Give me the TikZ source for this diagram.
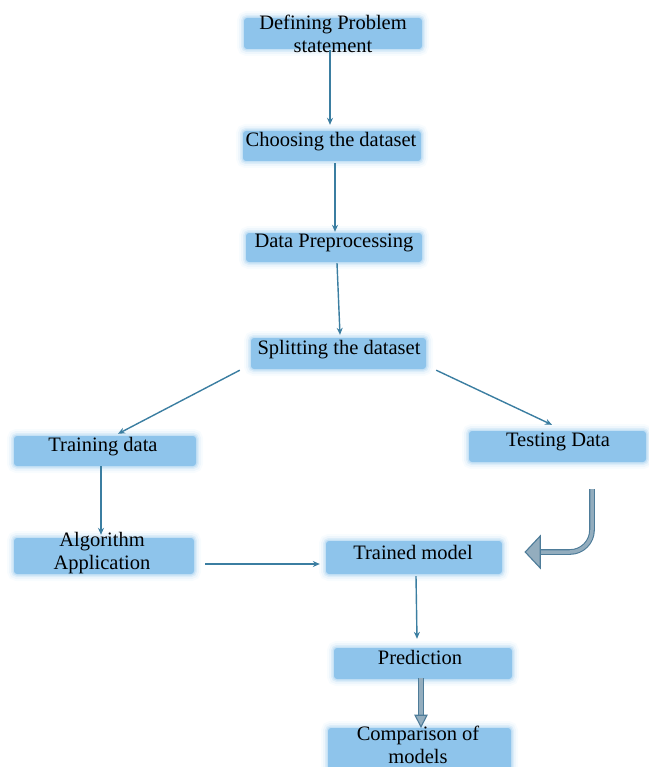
\documentclass[tikz,border=0pt]{standalone}
\usepackage{fontspec}
\setmainfont{Liberation Serif}
\usetikzlibrary{arrows.meta,calc}
\definecolor{boxblue}{HTML}{8EC4EB}
\definecolor{arrcol}{HTML}{3B7EA1}
\definecolor{hollowline}{HTML}{4E7C99}
\definecolor{hollowfill}{HTML}{93ADBE}
\begin{document}
\begin{tikzpicture}[x=1pt,y=-1pt,
  box/.style={rectangle,inner sep=0pt,draw=none,fill=boxblue,rounded corners=3pt,
    preaction={draw=boxblue,line width=14pt,opacity=0.06},
    preaction={draw=boxblue,line width=10pt,opacity=0.10},
    preaction={draw=boxblue,line width=6pt,opacity=0.18},
    preaction={draw=boxblue,line width=3pt,opacity=0.30}},
  lbl/.style={inner sep=0pt,align=center,font=\fontsize{20.5}{23.5}\selectfont,text=black},
  arr/.style={draw=arrcol,line width=1.4pt,-{Stealth[length=7pt,width=6pt]}},
  hollow/.style={draw=hollowline,line width=1.1pt,double=hollowfill,double distance=3.5pt},
  hhead/.style={draw=hollowline,line width=1.1pt,fill=hollowfill,line join=miter}
]
\useasboundingbox (0,0) rectangle (648,767);

% boxes
\node[box,minimum width=178pt,minimum height=31pt] (def) at (333,33.5) {};
\node[box,minimum width=178pt,minimum height=30pt] (choose) at (332,146) {};
\node[box,minimum width=176pt,minimum height=29pt] (prep) at (334,247.5) {};
\node[box,minimum width=175pt,minimum height=31pt] (split) at (338.5,353.5) {};
\node[box,minimum width=182pt,minimum height=30pt] (train) at (105,451) {};
\node[box,minimum width=177pt,minimum height=31pt] (test) at (557.5,446.5) {};
\node[box,minimum width=180pt,minimum height=36pt] (algo) at (104,556) {};
\node[box,minimum width=176pt,minimum height=33pt] (trained) at (414,557.5) {};
\node[box,minimum width=178pt,minimum height=31pt] (pred) at (423,663.5) {};
\node[box,minimum width=183pt,minimum height=44pt] (comp) at (419.5,750) {};

% labels
\node[lbl] (tdef) at (333,34) {Defining Problem\\statement};
\node[lbl] (tchoose) at (331,142) {Choosing the dataset};
\node[lbl] (tprep) at (334,243) {Data Preprocessing};
\node[lbl] (tsplit) at (339,350) {Splitting the dataset};
\node[lbl] (ttrain) at (103,447) {Training data};
\node[lbl] (ttest) at (558,442) {Testing Data};
\node[lbl] (talgo) at (102,553) {Algorithm\\Application};
\node[lbl] (ttrained) at (413,552) {Trained model};
\node[lbl] (tpred) at (420,657) {Prediction};
\node[lbl] (tcomp) at (418,745) {Comparison of\\models};

% straight connectors
\draw[arr] ($(def.south)+(-3,1)$) -- ($(choose.north)+(-2,-6)$);
\draw[arr] ($(choose.south)+(3,2)$) -- ($(prep.north)+(1,-1)$);
\draw[arr] ($(prep.south)+(3,1)$) -- ($(split.north)+(1.5,-3)$);
\draw[arr] ($(split.south west)+(-11,1)$) -- ($(train.north)+(13,-2)$);
\draw[arr] ($(split.south east)+(10,1)$) -- ($(test.north)+(-5.5,-6)$);
\draw[arr] ($(train.south)+(-4,0)$) -- ($(algo.north)+(-3,-3)$);
\draw[arr] ($(algo.east)+(11,8)$) -- ($(trained.west)+(-6,6.5)$);
\draw[arr] ($(trained.south)+(2,2)$) -- ($(pred.north)+(-6,-9)$);

% hollow double arrow Prediction -> Comparison
\coordinate (dbase) at ($(pred.south)+(-2,36)$);
\draw[hollow] ($(pred.south)+(-2,-1)$) -- (dbase);
\draw[hhead] ($(dbase)+(-6,0)$) -- ($(dbase)+(6,0)$) -- ($(comp.north)+(1.5,-1)$) -- cycle;

% curved hollow arrow Testing -> Trained model
\coordinate (cstart) at ($(test.south)+(34.5,27)$);
\coordinate (cbase) at ($(trained.east)+(38,-5.5)$);
\coordinate (ctip) at ($(trained.east)+(23,-5.5)$);
\draw[hollow,rounded corners=22pt] (cstart) |- (cbase);
\draw[hhead] ($(cbase)+(0,-16)$) -- ($(cbase)+(0,16)$) -- (ctip) -- cycle;
\end{tikzpicture}
\end{document}
